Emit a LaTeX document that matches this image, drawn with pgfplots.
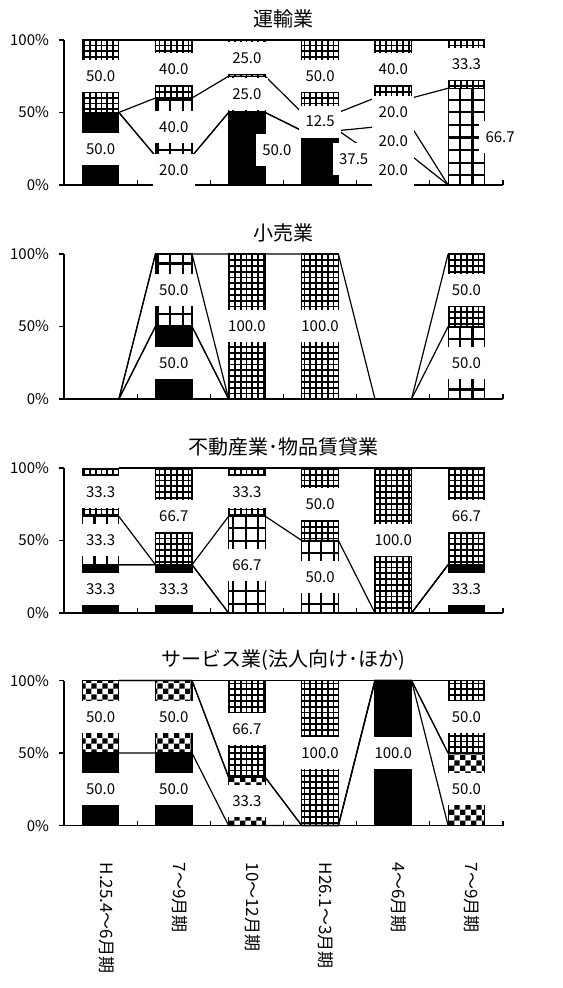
\documentclass[border=0pt]{standalone}
\usepackage{fontspec}
\setmainfont{Noto Sans CJK JP}
\usepackage{pgfplots}
\pgfplotsset{compat=1.18}
\usepackage{pgfplotstable}
\usetikzlibrary{patterns}

\pgfdeclarepatternformonly{densegrid}{\pgfqpoint{-0.6pt}{-0.6pt}}{\pgfqpoint{3.5pt}{3.5pt}}{\pgfqpoint{2.9pt}{2.9pt}}{%
  \pgfsetlinewidth{0.95pt}%
  \pgfpathmoveto{\pgfqpoint{-0.6pt}{1.45pt}}\pgfpathlineto{\pgfqpoint{3.5pt}{1.45pt}}%
  \pgfpathmoveto{\pgfqpoint{1.45pt}{-0.6pt}}\pgfpathlineto{\pgfqpoint{1.45pt}{3.5pt}}%
  \pgfusepath{stroke}}
\pgfdeclarepatternformonly{biggrid}{\pgfqpoint{-1pt}{-1pt}}{\pgfqpoint{7.3pt}{7.3pt}}{\pgfqpoint{6.3pt}{6.3pt}}{%
  \pgfsetlinewidth{1.1pt}%
  \pgfpathmoveto{\pgfqpoint{-1pt}{3.15pt}}\pgfpathlineto{\pgfqpoint{7.3pt}{3.15pt}}%
  \pgfpathmoveto{\pgfqpoint{3.15pt}{-1pt}}\pgfpathlineto{\pgfqpoint{3.15pt}{7.3pt}}%
  \pgfusepath{stroke}}
\pgfdeclarepatternformonly{checker}{\pgfqpoint{0pt}{0pt}}{\pgfqpoint{5.4pt}{5.4pt}}{\pgfqpoint{5.4pt}{5.4pt}}{%
  \pgfpathrectangle{\pgfqpoint{0pt}{0pt}}{\pgfqpoint{2.7pt}{2.7pt}}%
  \pgfpathrectangle{\pgfqpoint{2.7pt}{2.7pt}}{\pgfqpoint{2.7pt}{2.7pt}}%
  \pgfusepath{fill}}

% columns: black, checker, large grid, dense grid (percent)
\pgfplotstableread{
x a b c d
0 50 0 0 50
1 20 0 40 40
2 50 0 25 25
3 37.5 0 12.5 50
4 20 20 20 40
5 0 0 66.7 33.3
}\unyu
\pgfplotstableread{
x a b c d
0 0 0 0 0
1 50 0 50 0
2 0 0 0 100
3 0 0 0 100
4 0 0 0 0
5 0 0 50 50
}\kouri
\pgfplotstableread{
x a b c d
0 33.3 0 33.3 33.3
1 33.3 0 0 66.7
2 0 0 66.7 33.3
3 0 0 50 50
4 0 0 0 100
5 33.3 0 0 66.7
}\fudousan
\pgfplotstableread{
x a b c d
0 50 50 0 0
1 50 50 0 0
2 0 33.3 0 66.7
3 0 0 0 100
4 100 0 0 0
5 0 50 0 50
}\service

\pgfplotsset{
 barax/.style={scale only axis, width=219.5pt, height=72.5pt, anchor=south west,
   ybar stacked, bar width=0.5, xmin=-0.5, xmax=5.5, ymin=0, ymax=100,
   enlargelimits=false, clip=false,
   axis x line*=bottom, axis y line*=left, axis line style={line width=0.6pt},
   ytick={0,50,100}, yticklabels={0\%,50\%,100\%}, ytick align=outside,
   xtick={0.5,1.5,...,5.5}, xticklabels={}, xtick align=inside,
   major tick length=2.5pt, tick style={black, line width=0.6pt},
   yticklabel shift=1.5pt,
   tick label style={font=\fontsize{7.5}{9}\selectfont},
   title style={at={(0.5,1)}, anchor=center, yshift=4.5pt, font=\fontsize{10}{12}\selectfont}},
 ovax/.style={scale only axis, width=219.5pt, height=72.5pt, anchor=south west,
   xmin=-0.5, xmax=5.5, ymin=0, ymax=100, enlargelimits=false, clip=false, hide axis},
 sline/.style={black, line width=0.6pt, mark=none},
 lab/.style={draw=none, mark=none, nodes near coords, point meta=explicit symbolic,
   every node near coord/.append style={anchor=center, fill=white, inner sep=0pt,
     minimum width=21pt, minimum height=16pt, font=\fontsize{7.5}{9}\selectfont, text=black}},
 s1/.style={fill=black, draw=black, line width=0.6pt},
 s2/.style={pattern=checker, draw=black, line width=0.6pt},
 s3/.style={pattern=biggrid, draw=black, line width=0.6pt},
 s4/.style={pattern=densegrid, draw=black, line width=0.6pt},
}

\begin{document}
\begin{tikzpicture}
\path[use as bounding box] (0,0) rectangle (281pt,494pt);

% ---------------- 運輸業
\begin{axis}[barax, at={(32pt,401.5pt)}, title={運輸業}]
\addplot[s1] table[x=x,y=a]{\unyu};
\addplot[s2] table[x=x,y=b]{\unyu};
\addplot[s3] table[x=x,y=c]{\unyu};
\addplot[s4] table[x=x,y=d]{\unyu};
\end{axis}
\begin{axis}[ovax, at={(32pt,401.5pt)}]
\addplot[sline] coordinates {(0.25,50)(0.75,20)(1.25,20)(1.75,50)(2.25,50)(2.75,37.5)(3.25,37.5)(3.75,20)(4.25,20)(4.75,0)};
\addplot[sline] coordinates {(0.25,50)(0.75,20)(1.25,20)(1.75,50)(2.25,50)(2.75,37.5)(3.25,37.5)(3.75,40)(4.25,40)(4.75,0)};
\addplot[sline] coordinates {(0.25,50)(0.75,60)(1.25,60)(1.75,75)(2.25,75)(2.75,50)(3.25,50)(3.75,60)(4.25,60)(4.75,66.7)};
\addplot[sline] coordinates {(0.25,100)(0.75,100)(1.25,100)(1.75,100)(2.25,100)(2.75,100)(3.25,100)(3.75,100)(4.25,100)(4.75,100)};
\addplot[lab] coordinates {(0,25)[50.0] (0,75)[50.0]
 (1,10)[20.0] (1,40)[40.0] (1,80)[40.0]
 (2.41,24)[50.0] (2,62.5)[25.0] (2,87.5)[25.0]
 (3.46,18)[37.5] (3,43.75)[12.5] (3,75)[50.0]
 (4,10)[20.0] (4,30)[20.0] (4,50)[20.0] (4,80)[40.0]
 (5.46,33.3)[66.7] (5,83.3)[33.3]};
\end{axis}

% ---------------- 小売業
\begin{axis}[barax, at={(32pt,294.5pt)}, title={小売業}]
\addplot[s1] table[x=x,y=a]{\kouri};
\addplot[s2] table[x=x,y=b]{\kouri};
\addplot[s3] table[x=x,y=c]{\kouri};
\addplot[s4] table[x=x,y=d]{\kouri};
\end{axis}
\begin{axis}[ovax, at={(32pt,294.5pt)}]
\addplot[sline] coordinates {(0.25,0)(0.75,50)(1.25,50)(1.75,0)(2.25,0)(2.75,0)(3.25,0)(3.75,0)(4.25,0)(4.75,0)};
\addplot[sline] coordinates {(0.25,0)(0.75,50)(1.25,50)(1.75,0)(2.25,0)(2.75,0)(3.25,0)(3.75,0)(4.25,0)(4.75,0)};
\addplot[sline] coordinates {(0.25,0)(0.75,100)(1.25,100)(1.75,0)(2.25,0)(2.75,0)(3.25,0)(3.75,0)(4.25,0)(4.75,50)};
\addplot[sline] coordinates {(0.25,0)(0.75,100)(1.25,100)(1.75,100)(2.25,100)(2.75,100)(3.25,100)(3.75,0)(4.25,0)(4.75,100)};
\addplot[lab] coordinates {(1,25)[50.0] (1,75)[50.0] (2,50)[100.0] (3,50)[100.0] (5,25)[50.0] (5,75)[50.0]};
\end{axis}

% ---------------- 不動産業･物品賃貸業
\begin{axis}[barax, at={(32pt,187.5pt)}, title={不動産業･物品賃貸業}]
\addplot[s1] table[x=x,y=a]{\fudousan};
\addplot[s2] table[x=x,y=b]{\fudousan};
\addplot[s3] table[x=x,y=c]{\fudousan};
\addplot[s4] table[x=x,y=d]{\fudousan};
\end{axis}
\begin{axis}[ovax, at={(32pt,187.5pt)}]
\addplot[sline] coordinates {(0.25,33.3)(0.75,33.3)(1.25,33.3)(1.75,0)(2.25,0)(2.75,0)(3.25,0)(3.75,0)(4.25,0)(4.75,33.3)};
\addplot[sline] coordinates {(0.25,33.3)(0.75,33.3)(1.25,33.3)(1.75,0)(2.25,0)(2.75,0)(3.25,0)(3.75,0)(4.25,0)(4.75,33.3)};
\addplot[sline] coordinates {(0.25,66.6)(0.75,33.3)(1.25,33.3)(1.75,66.7)(2.25,66.7)(2.75,50)(3.25,50)(3.75,0)(4.25,0)(4.75,33.3)};
\addplot[sline] coordinates {(0.25,100)(0.75,100)(1.25,100)(1.75,100)(2.25,100)(2.75,100)(3.25,100)(3.75,100)(4.25,100)(4.75,100)};
\addplot[lab] coordinates {(0,16.7)[33.3] (0,50)[33.3] (0,83.3)[33.3]
 (1,16.7)[33.3] (1,66.7)[66.7]
 (2,33.3)[66.7] (2,83.3)[33.3]
 (3,25)[50.0] (3,75)[50.0]
 (4,50)[100.0]
 (5,16.7)[33.3] (5,66.7)[66.7]};
\end{axis}

% ---------------- サービス業(法人向け･ほか)
\begin{axis}[barax, at={(32pt,81.2pt)}, title={サービス業(法人向け･ほか)},
  extra x ticks={0.08,1.08,2.08,3.08,4.08,5.08},
  extra x tick labels={H.25.4～6月期,7～9月期,10～12月期,H26.1～3月期,4～6月期,7～9月期},
  extra x tick style={major tick length=0pt, tick label style={rotate=-90, anchor=west, font=\fontsize{8.5}{10}\selectfont}},
  xticklabel shift=15pt]
\addplot[s1] table[x=x,y=a]{\service};
\addplot[s2] table[x=x,y=b]{\service};
\addplot[s3] table[x=x,y=c]{\service};
\addplot[s4] table[x=x,y=d]{\service};
\end{axis}
\begin{axis}[ovax, at={(32pt,81.2pt)}]
\addplot[sline] coordinates {(0.25,50)(0.75,50)(1.25,50)(1.75,0)(2.25,0)(2.75,0)(3.25,0)(3.75,100)(4.25,100)(4.75,0)};
\addplot[sline] coordinates {(0.25,100)(0.75,100)(1.25,100)(1.75,33.3)(2.25,33.3)(2.75,0)(3.25,0)(3.75,100)(4.25,100)(4.75,50)};
\addplot[sline] coordinates {(0.25,100)(0.75,100)(1.25,100)(1.75,33.3)(2.25,33.3)(2.75,0)(3.25,0)(3.75,100)(4.25,100)(4.75,50)};
\addplot[sline] coordinates {(0.25,100)(0.75,100)(1.25,100)(1.75,100)(2.25,100)(2.75,100)(3.25,100)(3.75,100)(4.25,100)(4.75,100)};
\addplot[lab] coordinates {(0,25)[50.0] (0,75)[50.0] (1,25)[50.0] (1,75)[50.0]
 (2,16.7)[33.3] (2,66.7)[66.7] (3,50)[100.0] (4,50)[100.0] (5,25)[50.0] (5,75)[50.0]};
\end{axis}
\end{tikzpicture}
\end{document}
